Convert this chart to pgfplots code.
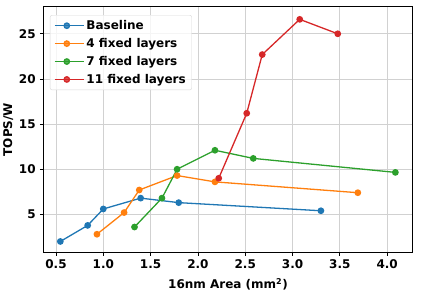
\documentclass[border=0pt]{standalone}
\usepackage{fontspec}
\setmainfont{DejaVu Sans}
\usepackage{pgfplots}
\pgfplotsset{compat=1.18}
\definecolor{tabblue}{HTML}{1F77B4}
\definecolor{taborange}{HTML}{FF7F0E}
\definecolor{tabgreen}{HTML}{2CA02C}
\definecolor{tabred}{HTML}{D62728}
\begin{document}
\fontsize{12}{14}\selectfont\bfseries
\begin{tikzpicture}
\path[use as bounding box] (-43.3pt,-39.7pt) rectangle (377.7pt,252.3pt);
\begin{axis}[
  at={(0pt,0pt)}, anchor=south west,
  scale only axis, width=369.4pt, height=245.6pt,
  xmin=0.366, xmax=4.27, ymin=0.8, ymax=28.0,
  xtick={0.5,1,1.5,2,2.5,3,3.5,4},
  ytick={5,10,15,20,25},
  /pgf/number format/assume math mode=true,
  xticklabel style={/pgf/number format/fixed, /pgf/number format/fixed zerofill, /pgf/number format/precision=1},
  ticklabel style={font=\fontsize{12}{14}\selectfont\bfseries},
  label style={font=\fontsize{12}{14}\selectfont\bfseries},
  xlabel={16nm Area (mm$^{\mathbf{2}}$)},
  ylabel={TOPS/W},
  xlabel style={at={(0.5,-0.09)}, anchor=north},
  ylabel style={at={(-0.07,0.5)}, anchor=south},
  grid=major,
  major grid style={line width=0.8pt, draw=black!18},
  axis line style={line width=0.9pt},
  tick style={line width=0.8pt, black},
  tick align=outside, major tick length=3.5pt,
  xtick pos=bottom, ytick pos=left,
  every axis plot/.append style={line width=1.3pt, mark=*, mark size=2.7pt},
  legend style={at={(0.018,0.966)}, anchor=north west, draw=black!15, rounded corners=2pt,
    fill=white, fill opacity=0.8, text opacity=1, font=\fontsize{12}{14}\selectfont\bfseries,
    row sep=3pt, inner xsep=4pt, inner ysep=3pt},
  legend cell align=left,
  legend image code/.code={\draw[mark repeat=2,mark phase=2] plot coordinates {(0pt,0pt) (12pt,0pt) (24pt,0pt)}; \path (0pt,0pt) -- (29pt,0pt);},
]
\addplot[tabblue, mark options={fill=tabblue, draw=tabblue}] coordinates {
(0.546,2.0) (0.835,3.78) (1.0,5.6) (1.395,6.8) (1.797,6.3) (3.30,5.4)};
\addlegendentry{Baseline}
\addplot[taborange, mark options={fill=taborange, draw=taborange}] coordinates {
(0.933,2.8) (1.22,5.2) (1.38,7.7) (1.78,9.3) (2.18,8.6) (3.69,7.4)};
\addlegendentry{4 fixed layers}
\addplot[tabgreen, mark options={fill=tabgreen, draw=tabgreen}] coordinates {
(1.33,3.6) (1.62,6.8) (1.78,10.0) (2.18,12.1) (2.585,11.2) (4.087,9.65)};
\addlegendentry{7 fixed layers}
\addplot[tabred, mark options={fill=tabred, draw=tabred}] coordinates {
(2.22,9.0) (2.516,16.2) (2.68,22.7) (3.076,26.6) (3.478,25.0)};
\addlegendentry{11 fixed layers}
\end{axis}
\end{tikzpicture}
\end{document}
